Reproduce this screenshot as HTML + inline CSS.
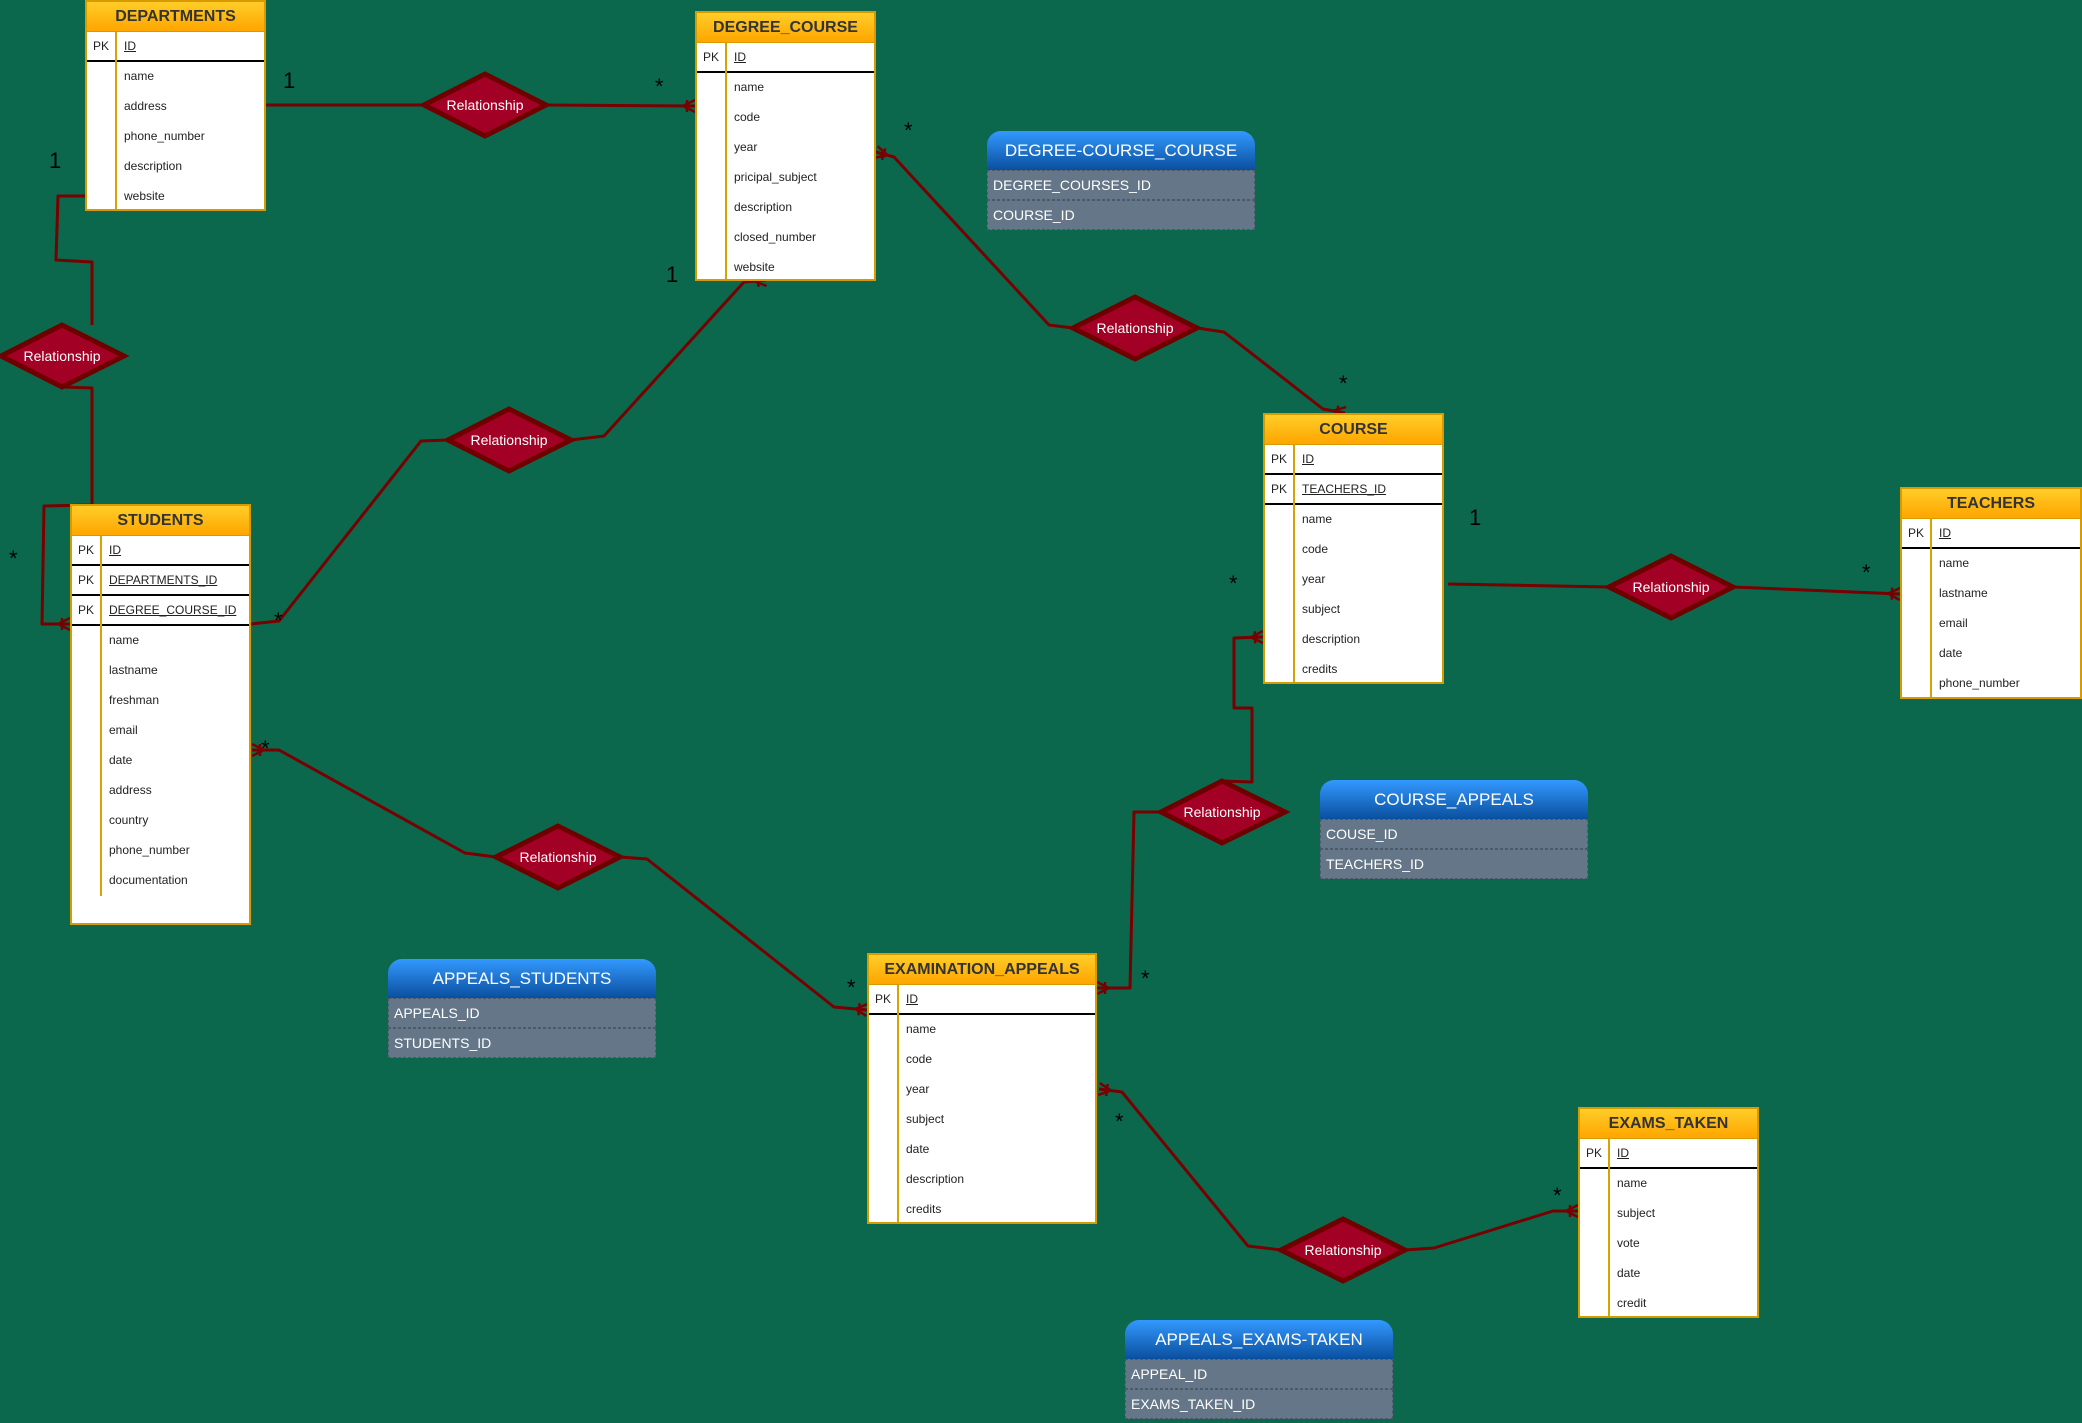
<!DOCTYPE html>
<html><head><meta charset="utf-8"><style>
body{margin:0;width:2082px;height:1423px;background:#0b684c;position:relative;overflow:hidden;font-family:"Liberation Sans",Arial,sans-serif}
*{box-sizing:border-box}
.t{position:absolute;background:#fff;border:2px solid #d79b00;overflow:hidden}
.t .h{height:30px;background:linear-gradient(#ffcd28,#ffa500);border-bottom:1px solid #d79b00;text-align:center;line-height:29px;font-weight:bold;font-size:16px;color:#333}
.r{height:30px;position:relative;font-size:12px;color:#222;line-height:29px}
.r .k{position:absolute;left:0;top:0;width:30px;text-align:center;height:30px;border-right:2px solid #d6a300}
.r .v{position:absolute;left:37px}
.p .v{text-decoration:underline}
.p{border-bottom:2px solid #000}
.b{position:absolute;width:268px}
.b .h{height:39px;border-radius:14px 14px 0 0;background:linear-gradient(#3399ff,#0a4f9e);color:#fff;text-align:center;line-height:40px;font-size:17px}
.b .r{background:#647687;color:#fff;font-size:14px;border:1px dashed #4a5a68;line-height:28px;padding-left:5px}
svg{position:absolute;left:0;top:0}
</style></head><body>
<svg width="2082" height="1423">
<defs><marker id="m" markerWidth="14" markerHeight="14" refX="12" refY="7" orient="auto" markerUnits="userSpaceOnUse">
<path d="M0,7 L12,1 M0,7 L12,13 M0,7 L12,7 M4,1 L4,13" stroke="#700" stroke-width="2.5" fill="none"/></marker></defs>
<g stroke="#700" stroke-width="3" fill="none" stroke-linejoin="round">
<path d="M266,105 L424,105"/><path d="M546,105 L695,106" marker-end="url(#m)"/>
<path d="M85,196 L58,196 L56,260 L92,262 L92,325"/>
<path d="M62,387 L92,388 L92,505 L44,506 L42,624 L70,624" marker-end="url(#m)"/>
<path d="M251,624 L279,621 L421,441 L448,440"/>
<path d="M571,440 L604,436 L744,282 L766,280" marker-end="url(#m)"/>
<path d="M1073,328 L1049,325 L894,157 L876,152" marker-end="url(#m)"/>
<path d="M1197,328 L1224,332 L1323,409 L1345,413" marker-end="url(#m)"/>
<path d="M1448,584 L1609,587"/><path d="M1733,587 L1900,594" marker-end="url(#m)"/>
<path d="M1222,781 L1252,782 L1252,708 L1234,708 L1234,638 L1263,637" marker-end="url(#m)"/>
<path d="M1161,812 L1134,812 L1130,988 L1097,988" marker-end="url(#m)"/>
<path d="M496,857 L465,853 L279,750 L252,750" marker-end="url(#m)"/>
<path d="M620,857 L647,859 L834,1007 L867,1010" marker-end="url(#m)"/>
<path d="M1281,1250 L1248,1246 L1122,1092 L1099,1089" marker-end="url(#m)"/>
<path d="M1405,1250 L1434,1248 L1553,1211 L1578,1211" marker-end="url(#m)"/>
</g>
<g fill="#a20025" stroke="#6f0000" stroke-width="5">
<path d="M424,105 L485,74 L546,105 L485,136Z"/>
<path d="M1,356 L62,325 L124,356 L62,387Z"/>
<path d="M448,440 L509,409 L571,440 L509,471Z"/>
<path d="M1073,328 L1135,297 L1197,328 L1135,359Z"/>
<path d="M1609,587 L1671,556 L1733,587 L1671,618Z"/>
<path d="M1161,812 L1222,781 L1285,812 L1222,843Z"/>
<path d="M496,857 L558,826 L620,857 L558,888Z"/>
<path d="M1281,1250 L1343,1219 L1405,1250 L1343,1281Z"/>
</g>
<g fill="#fff" font-size="14" text-anchor="middle" font-family="Liberation Sans,sans-serif">
<text x="485" y="110">Relationship</text><text x="62" y="361">Relationship</text>
<text x="509" y="445">Relationship</text><text x="1135" y="333">Relationship</text>
<text x="1671" y="592">Relationship</text><text x="1222" y="817">Relationship</text>
<text x="558" y="862">Relationship</text><text x="1343" y="1255">Relationship</text>
</g>
<g fill="#000" font-size="22" font-family="Liberation Sans,sans-serif">
<text x="283" y="88">1</text><text x="655" y="94">*</text>
<text x="49" y="168">1</text><text x="9" y="566">*</text>
<text x="666" y="282">1</text><text x="274" y="628">*</text>
<text x="904" y="138">*</text><text x="1339" y="391">*</text>
<text x="1469" y="525">1</text><text x="1862" y="580">*</text>
<text x="1229" y="591">*</text><text x="1141" y="986">*</text>
<text x="261" y="756">*</text><text x="847" y="995">*</text>
<text x="1115" y="1129">*</text><text x="1553" y="1203">*</text>
</g>
</svg>

<div class="t" style="left:85px;top:0;width:181px;height:211px"><div class="h">DEPARTMENTS</div>
<div class="r p"><span class="k">PK</span><span class="v">ID</span></div>
<div class="r"><span class="k"></span><span class="v">name</span></div><div class="r"><span class="k"></span><span class="v">address</span></div><div class="r"><span class="k"></span><span class="v">phone_number</span></div><div class="r"><span class="k"></span><span class="v">description</span></div><div class="r"><span class="k"></span><span class="v">website</span></div></div>

<div class="t" style="left:695px;top:11px;width:181px;height:270px"><div class="h">DEGREE_COURSE</div>
<div class="r p"><span class="k">PK</span><span class="v">ID</span></div>
<div class="r"><span class="k"></span><span class="v">name</span></div><div class="r"><span class="k"></span><span class="v">code</span></div><div class="r"><span class="k"></span><span class="v">year</span></div><div class="r"><span class="k"></span><span class="v">pricipal_subject</span></div><div class="r"><span class="k"></span><span class="v">description</span></div><div class="r"><span class="k"></span><span class="v">closed_number</span></div><div class="r"><span class="k"></span><span class="v">website</span></div></div>

<div class="t" style="left:1263px;top:413px;width:181px;height:271px"><div class="h">COURSE</div>
<div class="r p"><span class="k">PK</span><span class="v">ID</span></div>
<div class="r p"><span class="k">PK</span><span class="v">TEACHERS_ID</span></div>
<div class="r"><span class="k"></span><span class="v">name</span></div><div class="r"><span class="k"></span><span class="v">code</span></div><div class="r"><span class="k"></span><span class="v">year</span></div><div class="r"><span class="k"></span><span class="v">subject</span></div><div class="r"><span class="k"></span><span class="v">description</span></div><div class="r"><span class="k"></span><span class="v">credits</span></div></div>

<div class="t" style="left:1900px;top:487px;width:182px;height:212px"><div class="h">TEACHERS</div>
<div class="r p"><span class="k">PK</span><span class="v">ID</span></div>
<div class="r"><span class="k"></span><span class="v">name</span></div><div class="r"><span class="k"></span><span class="v">lastname</span></div><div class="r"><span class="k"></span><span class="v">email</span></div><div class="r"><span class="k"></span><span class="v">date</span></div><div class="r"><span class="k"></span><span class="v">phone_number</span></div></div>

<div class="t" style="left:70px;top:504px;width:181px;height:421px"><div class="h">STUDENTS</div>
<div class="r p"><span class="k">PK</span><span class="v">ID</span></div>
<div class="r p"><span class="k">PK</span><span class="v">DEPARTMENTS_ID</span></div>
<div class="r p"><span class="k">PK</span><span class="v">DEGREE_COURSE_ID</span></div>
<div class="r"><span class="k"></span><span class="v">name</span></div><div class="r"><span class="k"></span><span class="v">lastname</span></div><div class="r"><span class="k"></span><span class="v">freshman</span></div><div class="r"><span class="k"></span><span class="v">email</span></div><div class="r"><span class="k"></span><span class="v">date</span></div><div class="r"><span class="k"></span><span class="v">address</span></div><div class="r"><span class="k"></span><span class="v">country</span></div><div class="r"><span class="k"></span><span class="v">phone_number</span></div><div class="r"><span class="k"></span><span class="v">documentation</span></div></div>

<div class="t" style="left:867px;top:953px;width:230px;height:271px"><div class="h">EXAMINATION_APPEALS</div>
<div class="r p"><span class="k">PK</span><span class="v">ID</span></div>
<div class="r"><span class="k"></span><span class="v">name</span></div><div class="r"><span class="k"></span><span class="v">code</span></div><div class="r"><span class="k"></span><span class="v">year</span></div><div class="r"><span class="k"></span><span class="v">subject</span></div><div class="r"><span class="k"></span><span class="v">date</span></div><div class="r"><span class="k"></span><span class="v">description</span></div><div class="r"><span class="k"></span><span class="v">credits</span></div></div>

<div class="t" style="left:1578px;top:1107px;width:181px;height:211px"><div class="h">EXAMS_TAKEN</div>
<div class="r p"><span class="k">PK</span><span class="v">ID</span></div>
<div class="r"><span class="k"></span><span class="v">name</span></div><div class="r"><span class="k"></span><span class="v">subject</span></div><div class="r"><span class="k"></span><span class="v">vote</span></div><div class="r"><span class="k"></span><span class="v">date</span></div><div class="r"><span class="k"></span><span class="v">credit</span></div></div>

<div class="b" style="left:987px;top:131px"><div class="h">DEGREE-COURSE_COURSE</div><div class="r">DEGREE_COURSES_ID</div><div class="r">COURSE_ID</div></div>
<div class="b" style="left:1320px;top:780px"><div class="h">COURSE_APPEALS</div><div class="r">COUSE_ID</div><div class="r">TEACHERS_ID</div></div>
<div class="b" style="left:388px;top:959px"><div class="h">APPEALS_STUDENTS</div><div class="r">APPEALS_ID</div><div class="r">STUDENTS_ID</div></div>
<div class="b" style="left:1125px;top:1320px"><div class="h">APPEALS_EXAMS-TAKEN</div><div class="r">APPEAL_ID</div><div class="r">EXAMS_TAKEN_ID</div></div>
</body></html>
